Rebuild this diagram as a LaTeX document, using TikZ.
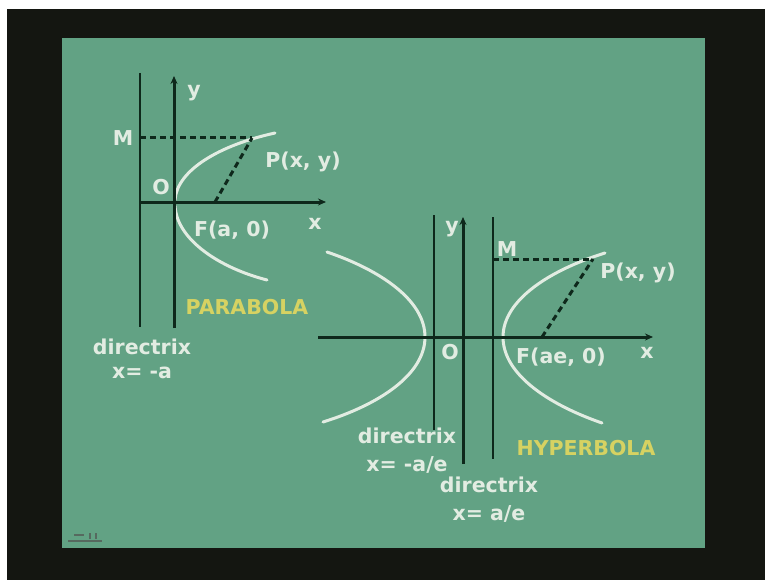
\documentclass[tikz,border=0pt]{standalone}
\usepackage{fontspec}
\setmainfont{DejaVu Sans}
\usetikzlibrary{
  arrows.meta,
  positioning
}
\definecolor{board}{RGB}{98,162,132}
\definecolor{frame}{RGB}{20,22,17}
\definecolor{chalk}{RGB}{226,236,226}
\definecolor{ink}{RGB}{14,40,27}
\definecolor{chalkyellow}{RGB}{214,210,98}

\begin{document}
\begin{tikzpicture}[
            x=1pt, y=-1pt,
            font=\fontsize{20.5}{22}\selectfont\bfseries,
            axis/.style={draw=ink, line width=3pt, -{Stealth[length=8pt,width=7pt]}},
            directrix/.style={draw=ink, line width=1.8pt},
            curve/.style={draw=chalk, line width=3pt, line cap=round},
            guide/.style={draw=ink, line width=3pt, dash pattern=on 6pt off 4pt},
            label/.style={text=chalk, inner sep=0pt},
            title/.style={text=chalkyellow, inner sep=0pt}
        ]

        % Lavagna
        \fill[frame] (0,0) rectangle (765,580);
        \fill[white] (0,0) rectangle (765,9);
        \fill[white] (0,0) rectangle (7,580);
        \fill[board] (62,38) rectangle (705,548);
        \draw[ink!70, line width=1.2pt] (68,541) -- (102,541);
        \draw[ink!70, line width=1.2pt] (74,535) -- (84,535) (90,533) -- (90,539) (96,533) -- (96,539);

        % Parabola
        \coordinate (parO) at (174,202);
        \coordinate (parXend) at (326,202);
        \coordinate (parYend) at (174,76);
        \coordinate (parYbot) at (174,328);
        \coordinate (parDtop) at (140,73);
        \coordinate (parDbot) at (140,327);
        \coordinate (parXbeg) at (140,202);
        \coordinate (parM) at (140,138);
        \coordinate (parP) at (252,138);
        \coordinate (parF) at (215,202);

        \draw[curve] (175,200) .. controls (177,170) and (220,145) .. (275,133);
        \draw[curve] (175,206) .. controls (177,240) and (220,268) .. (267,280);

        \draw[directrix] (parDtop) -- (parDbot);
        \draw[axis] (parXbeg) -- (parXend);
        \draw[axis] (parYbot) -- (parYend);
        \draw[guide] (parM) -- (parP);
        \draw[guide] (parF) -- (parP);

        \node (parLy) [label] at (194,93) {y};
        \node (parLx) [label] at (315,224) {x};
        \node (parLM) [label] at (123,138) {M};
        \node (parLO) [label] at (161,187) {O};
        \node (parLP) [label] at (303,162) {P(x, y)};
        \node (parLF) [label] at (232,230) {F(a, 0)};
        \node (parName) [title] at (247,307) {PARABOLA};
        \node (parDir) [label] at (142,347) {directrix};
        \node (parDirEq) [label, below=12pt of parDir] {x= -a};

        % Iperbole
        \coordinate (hypO) at (463,337);
        \coordinate (hypXbeg) at (318,337);
        \coordinate (hypXend) at (653,337);
        \coordinate (hypYend) at (463,217);
        \coordinate (hypYbot) at (463,464);
        \coordinate (hypD1top) at (434,215);
        \coordinate (hypD1bot) at (434,430);
        \coordinate (hypD2top) at (493,217);
        \coordinate (hypD2bot) at (493,459);
        \coordinate (hypM) at (493,259);
        \coordinate (hypP) at (593,259);
        \coordinate (hypF) at (542,337);

        \draw[curve] (503,337) .. controls (503,300) and (550,270) .. (605,253);
        \draw[curve] (503,337) .. controls (503,375) and (550,405) .. (602,423);
        \draw[curve] (425,337) .. controls (425,300) and (380,270) .. (327,252);
        \draw[curve] (425,337) .. controls (425,375) and (378,405) .. (323,422);

        \draw[directrix] (hypD1top) -- (hypD1bot);
        \draw[directrix] (hypD2top) -- (hypD2bot);
        \draw[axis] (hypXbeg) -- (hypXend);
        \draw[axis] (hypYbot) -- (hypYend);
        \draw[guide] (hypM) -- (hypP);
        \draw[guide] (hypF) -- (hypP);

        \node (hypLy) [label] at (452,229) {y};
        \node (hypLx) [label] at (647,353) {x};
        \node (hypLM) [label] at (507,249) {M};
        \node (hypLO) [label] at (450,352) {O};
        \node (hypLP) [label] at (638,273) {P(x, y)};
        \node (hypLF) [label] at (561,357) {F(ae, 0)};
        \node (hypName) [title] at (586,448) {HYPERBOLA};
        \node (hypDir1) [label] at (407,436) {directrix};
        \node (hypDir1Eq) [label, below=12pt of hypDir1] {x= -a/e};
        \node (hypDir2) [label] at (489,485) {directrix};
        \node (hypDir2Eq) [label, below=12pt of hypDir2] {x= a/e};

    \end{tikzpicture}
\end{document}
